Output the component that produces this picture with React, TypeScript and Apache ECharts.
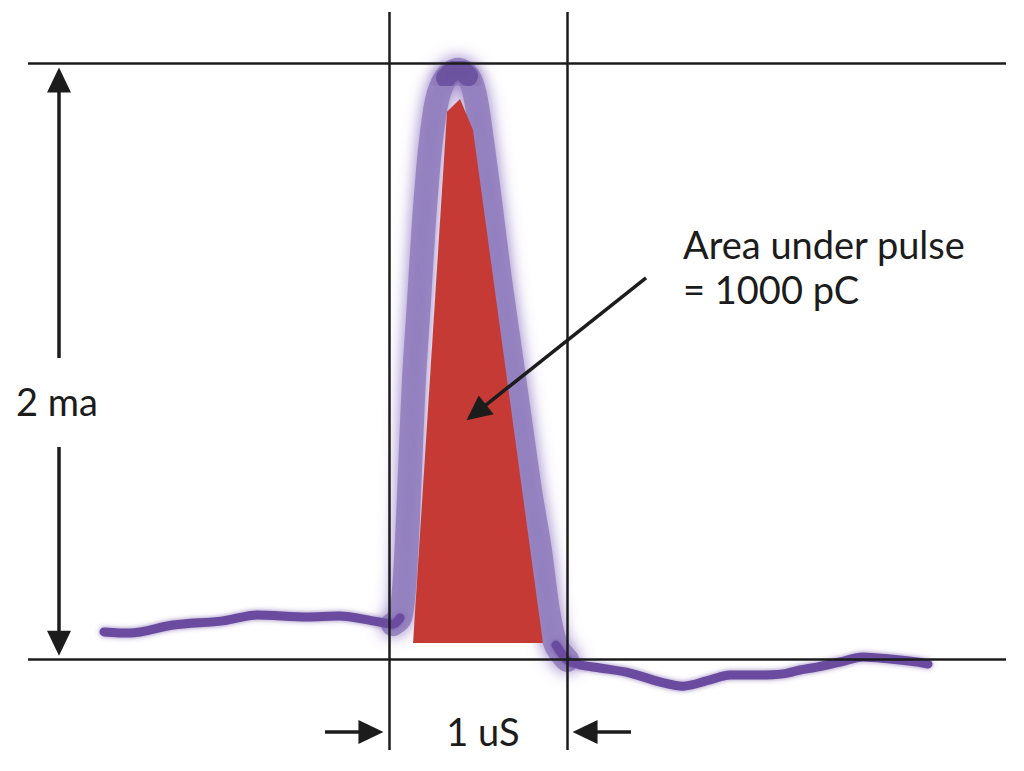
import React, { useEffect, useRef } from "react";
import * as echarts from "echarts";

// Time in microseconds (0 = pulse start line, 1 = 1 uS line); current in mA
const traceTime = [
  -1.601, -1.455, -1.213, -0.933, -0.742, -0.461, -0.275, -0.09, 0.022, 0.062,
  0.084, 0.101, 0.118, 0.14, 0.169, 0.197, 0.23, 0.27, 0.32, 0.388,
  0.444, 0.483, 0.522, 0.567, 0.624, 0.68, 0.736, 0.792, 0.848, 0.893,
  0.938, 1.0, 1.073, 1.185, 1.354, 1.522, 1.652, 1.803, 1.916, 2.084,
  2.213, 2.309, 2.404, 2.534, 2.663, 2.815, 2.966, 3.028,
];
const traceCurrent = [
  0.091, 0.087, 0.114, 0.128, 0.148, 0.141, 0.144, 0.128, 0.117, 0.138,
  0.232, 0.399, 0.634, 0.936, 1.205, 1.473, 1.708, 1.876, 1.95, 1.977,
  1.956, 1.893, 1.742, 1.54, 1.272, 1.037, 0.802, 0.567, 0.366, 0.164,
  0.047, -0.003, -0.02, -0.03, -0.047, -0.077, -0.091, -0.07, -0.054, -0.054,
  -0.05, -0.037, -0.027, -0.01, 0.007, 0.0, -0.01, -0.017,
];
// Red "area under pulse" polygon
const areaTime = [0.135, 0.326, 0.399, 0.472, 0.865];
const areaCurrent = [0.054, 1.836, 1.879, 1.775, 0.054];

// Reference lines
const levelLines = [0, 2]; // mA
const timeLines = [0, 1]; // uS

const labels = {
  amplitude: "2 ma",
  width: "1 uS",
  areaLine1: "Area under pulse",
  areaLine2: "= 1000 pC",
};

const X_MIN = -2.1854, X_MAX = 3.5674;
const Y_MIN = -0.3758, Y_MAX = 2.2114;
const W = 1024, H = 771;
const pxX = (p: number) => X_MIN + (p / W) * (X_MAX - X_MIN);
const pxY = (p: number) => Y_MAX - (p / H) * (Y_MAX - Y_MIN);
const unitX = W / (X_MAX - X_MIN);
const unitY = H / (Y_MAX - Y_MIN);

// shift an arrow end back by `back` px so the triangle's tip lands at the tip
function arrow(from: number[], tip: number[], back = 12) {
  const dx = (tip[0] - from[0]) * unitX;
  const dy = (tip[1] - from[1]) * unitY;
  const len = Math.hypot(dx, dy);
  const end = [tip[0] - (dx / len) * back / unitX, tip[1] - (dy / len) * back / unitY];
  return [{ coord: from }, { coord: end }];
}

export default function App() {
  const ref = useRef<HTMLDivElement>(null);
  useEffect(() => {
    if (!ref.current) return;
    const chart = echarts.init(ref.current, null, { renderer: "svg" });
    const tracePts = traceTime.map((t, i) => [t, traceCurrent[i]]);
    const pulsePts = tracePts.filter((p) => p[0] >= 0.02 && p[0] <= 1.0);
    const leftPts = tracePts.filter((p) => p[0] <= 0.07);
    const rightPts = tracePts.filter((p) => p[0] >= 0.93);
    const peakPts = tracePts.filter((p) => p[0] >= 0.3 && p[0] <= 0.45);
    const ink = "#1c1c1c";
    const font = "Lato, 'DejaVu Sans', sans-serif";

    const coreStyle = {
      width: 9,
      color: "#6a4c9f",
      shadowBlur: 5,
      shadowColor: "rgba(106,76,159,0.7)",
      cap: "round",
      join: "round",
    };

    const plainLines = [
      ...levelLines.map((v) => [{ coord: [pxX(28), v] }, { coord: [pxX(1006), v] }]),
      ...timeLines.map((t) => [{ coord: [t, pxY(12)] }, { coord: [t, pxY(750)] }]),
    ];
    const arrows = [
      arrow([pxX(59), pxY(358)], [pxX(59), levelLines[1] - 0.017]),
      arrow([pxX(59), pxY(447)], [pxX(59), levelLines[0] + 0.013]),
      arrow([pxX(325), pxY(732)], [timeLines[0] - 0.034, pxY(732)]),
      arrow([pxX(631), pxY(732)], [timeLines[1] + 0.034, pxY(732)]),
      arrow([1.444, 1.279], [0.438, 0.802]),
    ];

    chart.setOption({
      animation: false,
      backgroundColor: "#ffffff",
      grid: { left: 0, right: 0, top: 0, bottom: 0 },
      xAxis: { type: "value", min: X_MIN, max: X_MAX, show: false },
      yAxis: { type: "value", min: Y_MIN, max: Y_MAX, show: false },
      series: [
        {
          type: "line",
          data: pulsePts,
          smooth: 0.3,
          symbol: "none",
          z: 1,
          lineStyle: {
            width: 24,
            color: "rgba(146,128,190,0.9)",
            shadowBlur: 16,
            shadowColor: "rgba(128,100,185,0.95)",
            cap: "round",
            join: "round",
          },
        },
        { type: "line", data: leftPts, smooth: 0.3, symbol: "none", z: 2, lineStyle: coreStyle },
        { type: "line", data: rightPts, smooth: 0.3, symbol: "none", z: 2, lineStyle: coreStyle },
        {
          type: "line",
          data: peakPts,
          smooth: 0.5,
          symbol: "none",
          z: 2,
          lineStyle: { ...coreStyle, width: 20, color: "rgba(104,80,158,0.85)", shadowBlur: 12 },
        },
        {
          type: "custom",
          z: 3,
          data: areaTime.map((t, i) => [t, areaCurrent[i]]),
          renderItem: (params: any, api: any) => {
            if (params.dataIndex !== 0) return null;
            const points = areaTime.map((t, i) => api.coord([t, areaCurrent[i]]));
            return { type: "polygon", shape: { points }, style: { fill: "#c63a35" } };
          },
        },
        {
          type: "line",
          data: [],
          z: 5,
          markLine: {
            silent: true,
            symbol: ["none", "none"],
            label: { show: false },
            lineStyle: { color: ink, width: 2.5, type: "solid" },
            emphasis: { disabled: true },
            data: plainLines,
          },
        },
        {
          type: "line",
          data: [],
          z: 6,
          markLine: {
            silent: true,
            symbol: ["none", "triangle"],
            symbolSize: [24, 25],
            label: { show: false },
            lineStyle: { color: ink, width: 3.5, type: "solid" },
            itemStyle: { color: ink },
            emphasis: { disabled: true },
            data: arrows,
          },
        },
      ],
      graphic: [
        { type: "text", x: 57, y: 401, style: { text: labels.amplitude, fill: ink, font: `38px ${font}`, align: "center", verticalAlign: "middle" } },
        { type: "text", x: 483, y: 731, style: { text: labels.width, fill: ink, font: `38px ${font}`, align: "center", verticalAlign: "middle" } },
        { type: "text", x: 683, y: 244, style: { text: labels.areaLine1, fill: ink, font: `38px ${font}`, align: "left", verticalAlign: "middle" } },
        { type: "text", x: 683, y: 289, style: { text: labels.areaLine2, fill: ink, font: `38px ${font}`, align: "left", verticalAlign: "middle" } },
      ],
    });
    return () => chart.dispose();
  }, []);
  return <div ref={ref} style={{ position: "absolute", left: 0, top: 0, width: 1024, height: 771 }} />;
}
